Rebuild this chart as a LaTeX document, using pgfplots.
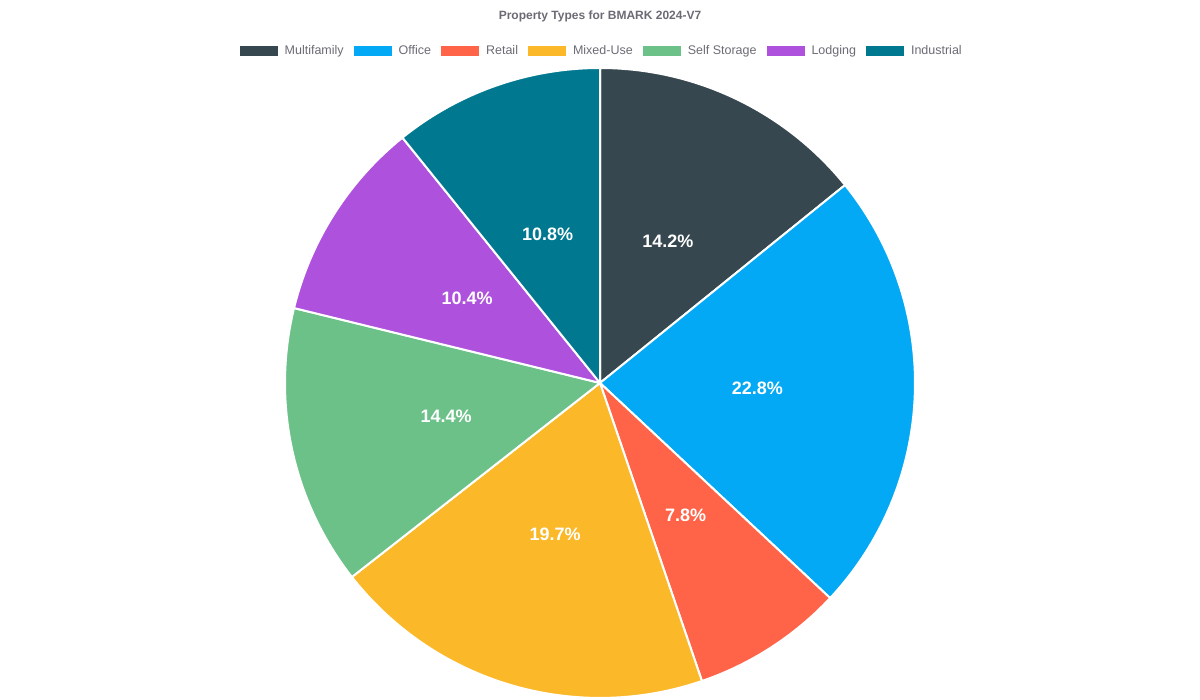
\documentclass[border=0pt]{standalone}
\usepackage{pgfplots}
\pgfplotsset{compat=1.18}
\usepackage{fontspec}
\setmainfont{Liberation Sans}
\definecolor{cA}{HTML}{37474F}
\definecolor{cB}{HTML}{03A9F4}
\definecolor{cC}{HTML}{FF6348}
\definecolor{cD}{HTML}{FBB829}
\definecolor{cE}{HTML}{6CC189}
\definecolor{cF}{HTML}{AE52DD}
\definecolor{cG}{HTML}{007990}
\definecolor{txtgray}{HTML}{6B6B75}
% slice values (percent)
\def\vA{14.2}\def\vB{22.8}\def\vC{7.8}\def\vD{19.7}\def\vE{14.4}\def\vF{10.4}\def\vG{10.8}
\pgfmathsetmacro\tot{\vA+\vB+\vC+\vD+\vE+\vF+\vG}
\pgfmathsetmacro\sA{90}
\pgfmathsetmacro\sB{\sA-360*\vA/\tot}
\pgfmathsetmacro\sC{\sB-360*\vB/\tot}
\pgfmathsetmacro\sD{\sC-360*\vC/\tot}
\pgfmathsetmacro\sE{\sD-360*\vD/\tot}
\pgfmathsetmacro\sF{\sE-360*\vE/\tot}
\pgfmathsetmacro\sG{\sF-360*\vF/\tot}
\pgfmathsetmacro\sH{\sG-360*\vG/\tot}
\def\R{315}
\newcommand\slice[3]{%
  \addplot[fill=#1, draw=white, line width=2pt, line join=round, domain=#3:#2, samples=120, variable=\t]
    ({\R*cos(\t)}, {\R*sin(\t)}) -- (axis cs:0,0) -- cycle;}
\newcommand\plabel[3]{%
  \pgfmathsetmacro\midx{0.5*\R*cos((#1+#2)/2)}%
  \pgfmathsetmacro\midy{0.5*\R*sin((#1+#2)/2)}%
  \edef\tmp{\noexpand\node[text=white, font=\noexpand\fontsize{18}{20}\noexpand\selectfont\noexpand\bfseries] at (axis cs:\midx,\midy) {#3};}%
  \tmp}
\begin{document}
\begin{tikzpicture}
\begin{axis}[
  scale only axis, width=1200pt, height=700pt,
  xmin=-600, xmax=600, ymin=-317, ymax=383,
  hide axis, clip=false,
  legend columns=-1,
  legend style={draw=none, fill=none, at={(rel axis cs:0.5035,0.9271)}, anchor=center,
    font=\fontsize{12.5}{14}\selectfont, text=txtgray,
    nodes={inner xsep=7pt, inner ysep=1pt},
    /tikz/every even column/.append style={column sep=3pt}},
  legend image code/.code={\fill[draw=none] (0pt,-5pt) rectangle (38pt,5pt);},
]
\path (rel axis cs:0,0) rectangle (rel axis cs:1,1);
\slice{cA}{\sA}{\sB}
\slice{cB}{\sB}{\sC}
\slice{cC}{\sC}{\sD}
\slice{cD}{\sD}{\sE}
\slice{cE}{\sE}{\sF}
\slice{cF}{\sF}{\sG}
\slice{cG}{\sG}{\sH}
\legend{Multifamily,Office,Retail,Mixed-Use,Self Storage,Lodging,Industrial}
\plabel{\sA}{\sB}{14.2\%}
\plabel{\sB}{\sC}{22.8\%}
\plabel{\sC}{\sD}{7.8\%}
\plabel{\sD}{\sE}{19.7\%}
\plabel{\sE}{\sF}{14.4\%}
\plabel{\sF}{\sG}{10.4\%}
\plabel{\sG}{\sH}{10.8\%}
\node[text=txtgray, font=\fontsize{12}{14}\selectfont\bfseries] at (rel axis cs:0.5,0.977) {Property Types for BMARK 2024-V7};
\end{axis}
\end{tikzpicture}
\end{document}
